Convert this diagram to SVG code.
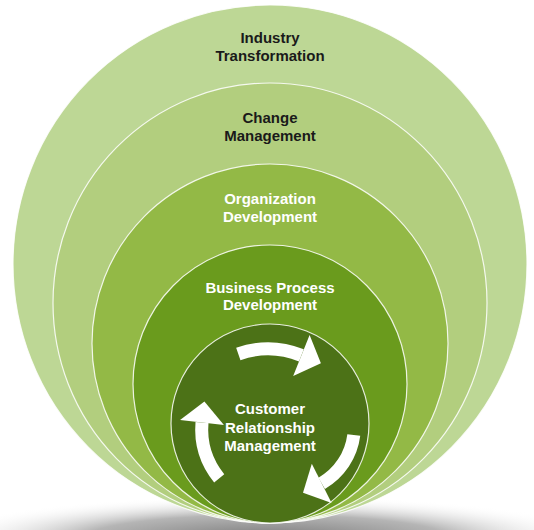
<svg xmlns="http://www.w3.org/2000/svg" width="534" height="530" viewBox="0 0 534 530">
  <defs>
    <radialGradient id="floorShadow" cx="0.5" cy="0.5" r="0.5">
      <stop offset="0" stop-color="#7a7a7a"/>
      <stop offset="0.55" stop-color="#b5b5b5"/>
      <stop offset="1" stop-color="#ffffff" stop-opacity="0"/>
    </radialGradient>
    <style>
      .ring { stroke: #ffffff; stroke-opacity: 0.85; stroke-width: 1.2; }
      .lbl { font-family: "Liberation Sans", Arial, sans-serif; font-weight: bold; font-size: 15px; text-anchor: middle; }
      .dark { fill: #1a1a1a; }
      .light { fill: #ffffff; }
      .shaft { fill: none; stroke: #ffffff; stroke-width: 13; stroke-linecap: butt; }
      .head { fill: #ffffff; }
    </style>
  </defs>

  <rect width="534" height="530" fill="#ffffff"/>

  <!-- soft floor shadow under the rings -->
  <ellipse cx="267" cy="538" rx="330" ry="42" fill="url(#floorShadow)"/>

  <g id="industry-transformation">
    <ellipse class="ring" cx="270" cy="264" rx="257" ry="259" fill="#bdd795"/>
    <text class="lbl dark" x="270" y="43">Industry</text>
    <text class="lbl dark" x="270" y="61">Transformation</text>
  </g>

  <g id="change-management">
    <ellipse class="ring" cx="270" cy="303" rx="217" ry="220" fill="#b2ce7e"/>
    <text class="lbl dark" x="270" y="123">Change</text>
    <text class="lbl dark" x="270" y="141">Management</text>
  </g>

  <g id="organization-development">
    <ellipse class="ring" cx="270" cy="343.5" rx="178" ry="179.5" fill="#93b946"/>
    <text class="lbl light" x="270" y="204">Organization</text>
    <text class="lbl light" x="270" y="221.5">Development</text>
  </g>

  <g id="business-process-development">
    <ellipse class="ring" cx="270" cy="384" rx="137" ry="139" fill="#6a9b1d"/>
    <text class="lbl light" x="270" y="292.5">Business Process</text>
    <text class="lbl light" x="270" y="310">Development</text>
  </g>

  <g id="customer-relationship-management">
    <ellipse class="ring" cx="270" cy="423.5" rx="99" ry="99.5" fill="#4c7217"/>
    <text class="lbl light" x="270" y="414">Customer</text>
    <text class="lbl light" x="270" y="432.5">Relationship</text>
    <text class="lbl light" x="270" y="451">Management</text>
  </g>

  <!-- clockwise cycle arrows around the core -->
  <g id="cycle-arrows">
    <path class="shaft" d="M238.3,354 A90,90 0 0 1 301.4,355.4"/>
    <polygon class="head" points="309.6,335.1 320.9,363.2 293.2,375.9"/>

    <path class="shaft" d="M353.8,435 A65,65 0 0 1 321.7,483.3"/>
    <polygon class="head" points="311.8,463.7 303,492.8 331.6,502.9"/>

    <path class="shaft" d="M219.2,478.3 A78,78 0 0 1 202,422.5"/>
    <polygon class="head" points="180.1,420 204.4,401.6 223.9,425"/>
  </g>
</svg>
